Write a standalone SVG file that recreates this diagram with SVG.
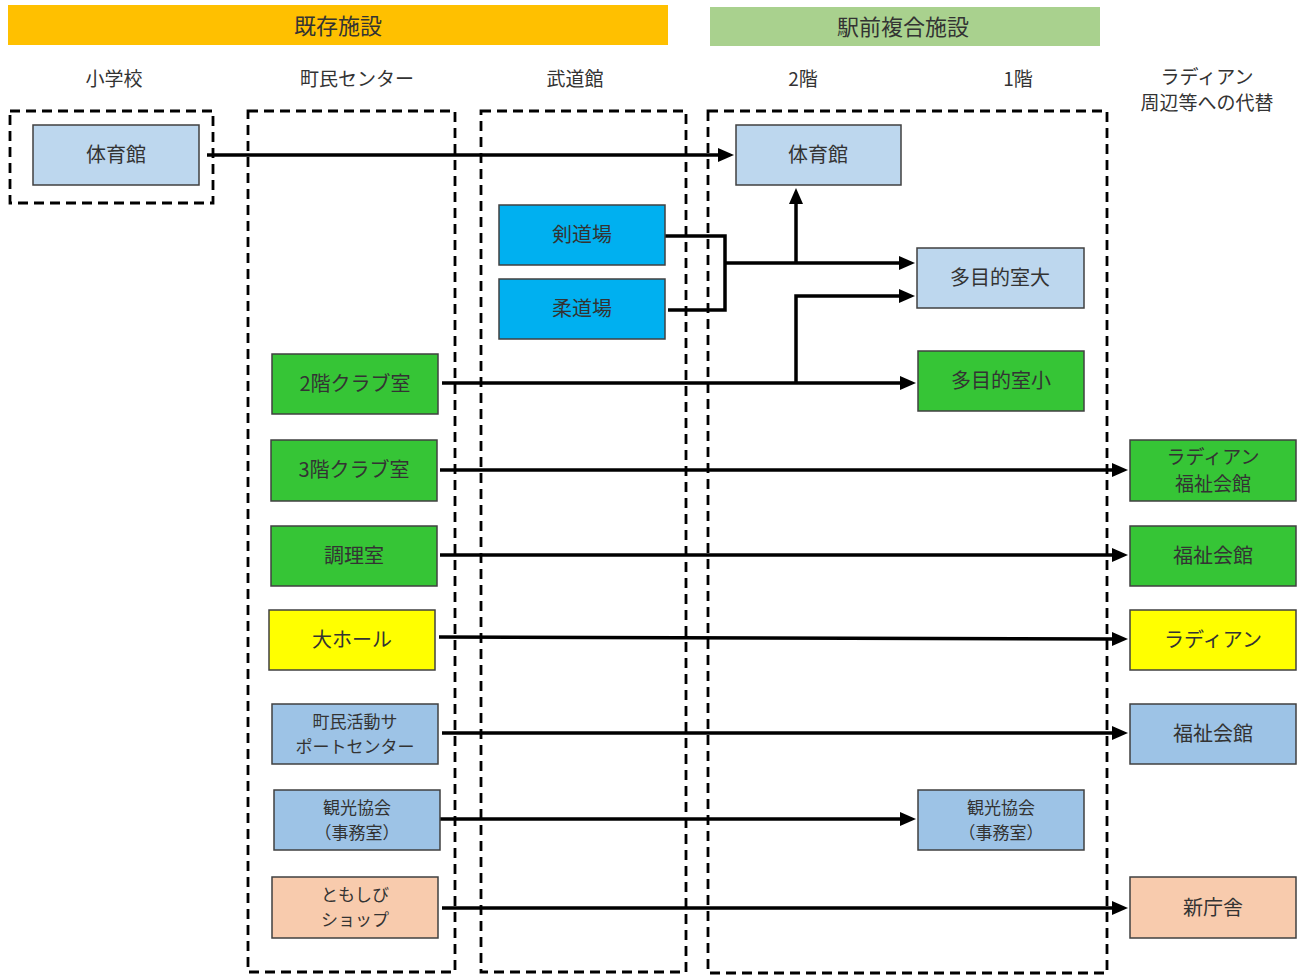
<svg xmlns="http://www.w3.org/2000/svg" width="1303" height="976" viewBox="0 0 1303 976">
<defs>
<marker id="ah" markerUnits="userSpaceOnUse" markerWidth="16" markerHeight="14" refX="2" refY="7" orient="auto">
<path d="M0,0 L16,7 L0,14 z" fill="#000"/>
</marker>
<style>
text{font-family:"Noto Sans CJK JP","Noto Sans CJK SC",sans-serif;fill:#333;text-anchor:middle;dominant-baseline:central}
.hd{font-size:22px}
.col{font-size:19px}
.n rect{stroke:#404040;stroke-width:1.5}
.n text{font-size:20px}
.n text.s{font-size:17px}
.n text.m{font-size:19px}
.lb{fill:#BDD7EE}
.mb{fill:#9DC3E6}
.cy{fill:#00B0F0}
.gr{fill:#36C536}
.ye{fill:#FFFF00}
.pe{fill:#F8CBAD}
.dash{fill:none;stroke:#000;stroke-width:2.8;stroke-dasharray:10 6}
.c path{fill:none;stroke:#000;stroke-width:3.5}
.c path.a{marker-end:url(#ah)}
</style>
</defs>
<rect width="1303" height="976" fill="#fff"/>
<g id="headers">
<rect x="8" y="5" width="660" height="40" fill="#FFC000"/>
<text class="hd" x="338" y="24">既存施設</text>
<rect x="710" y="7" width="390" height="39" fill="#A9D18E"/>
<text class="hd" x="903" y="25">駅前複合施設</text>
</g>
<g id="column-labels">
<text class="col" x="114" y="77">小学校</text>
<text class="col" x="357" y="77">町民センター</text>
<text class="col" x="575" y="77">武道館</text>
<text class="col" x="803" y="77">2階</text>
<text class="col" x="1018" y="77">1階</text>
<text class="col" x="1207" y="75">ラディアン</text>
<text class="col" x="1207" y="101">周辺等への代替</text>
</g>
<g id="groups">
<rect class="dash" x="10" y="111" width="203" height="92"/>
<rect class="dash" x="248" y="111" width="207" height="861"/>
<rect class="dash" x="481" y="111" width="205" height="861"/>
<rect class="dash" x="708" y="111" width="399" height="862"/>
</g>
<g id="connectors" class="c">
<path class="a" d="M207,155 L720,155"/>
<path d="M665,236 L725,236 L725,310 L668,310"/>
<path class="a" d="M725,263 L901,263"/>
<path class="a" d="M796,263 L796,202"/>
<path class="a" d="M442,383 L902,383"/>
<path class="a" d="M796,383 L796,296 L901,296"/>
<path class="a" d="M440,470 L1114,470"/>
<path class="a" d="M440,555 L1114,555"/>
<path class="a" d="M439,637 L1114,639"/>
<path class="a" d="M442,733 L1114,733"/>
<path class="a" d="M440,819 L902,819"/>
<path class="a" d="M442,908 L1114,908"/>
</g>
<g id="n-school-gym" class="n"><rect class="lb" x="33" y="125" width="166" height="60"/><text x="116" y="153">体育館</text></g>
<g id="n-gym-2f" class="n"><rect class="lb" x="736" y="125" width="165" height="60"/><text x="818" y="153">体育館</text></g>
<g id="n-kendo" class="n"><rect class="cy" x="499" y="205" width="166" height="60"/><text x="582" y="233">剣道場</text></g>
<g id="n-judo" class="n"><rect class="cy" x="499" y="279" width="166" height="60"/><text x="582" y="307">柔道場</text></g>
<g id="n-multi-large" class="n"><rect class="lb" x="917" y="248" width="167" height="60"/><text x="1000" y="276">多目的室大</text></g>
<g id="n-multi-small" class="n"><rect class="gr" x="918" y="351" width="166" height="60"/><text x="1001" y="379">多目的室小</text></g>
<g id="n-club2" class="n"><rect class="gr" x="272" y="354" width="166" height="60"/><text x="355" y="382">2階クラブ室</text></g>
<g id="n-club3" class="n"><rect class="gr" x="271" y="440" width="166" height="61"/><text x="354" y="468">3階クラブ室</text></g>
<g id="n-cooking" class="n"><rect class="gr" x="271" y="526" width="166" height="60"/><text x="354" y="554">調理室</text></g>
<g id="n-hall" class="n"><rect class="ye" x="269" y="610" width="166" height="60"/><text x="352" y="638">大ホール</text></g>
<g id="n-support" class="n"><rect class="mb" x="272" y="704" width="166" height="60"/><text class="s" x="355" y="720">町民活動サ</text><text class="s" x="355" y="745">ポートセンター</text></g>
<g id="n-tourism" class="n"><rect class="mb" x="274" y="790" width="166" height="60"/><text class="s" x="357" y="806">観光協会</text><text class="s" x="357" y="831">（事務室）</text></g>
<g id="n-shop" class="n"><rect class="pe" x="272" y="877" width="166" height="61"/><text class="s" x="355" y="893">ともしび</text><text class="s" x="355" y="918">ショップ</text></g>
<g id="n-tourism-1f" class="n"><rect class="mb" x="918" y="790" width="166" height="60"/><text class="s" x="1001" y="806">観光協会</text><text class="s" x="1001" y="831">（事務室）</text></g>
<g id="n-radian-welfare" class="n"><rect class="gr" x="1130" y="440" width="166" height="61"/><text class="m" x="1213" y="455">ラディアン</text><text class="m" x="1213" y="482">福祉会館</text></g>
<g id="n-welfare-green" class="n"><rect class="gr" x="1130" y="526" width="166" height="60"/><text x="1213" y="554">福祉会館</text></g>
<g id="n-radian" class="n"><rect class="ye" x="1130" y="610" width="166" height="60"/><text x="1213" y="638">ラディアン</text></g>
<g id="n-welfare-blue" class="n"><rect class="mb" x="1130" y="704" width="166" height="60"/><text x="1213" y="732">福祉会館</text></g>
<g id="n-new-office" class="n"><rect class="pe" x="1130" y="877" width="166" height="61"/><text x="1213" y="906">新庁舎</text></g>
</svg>
